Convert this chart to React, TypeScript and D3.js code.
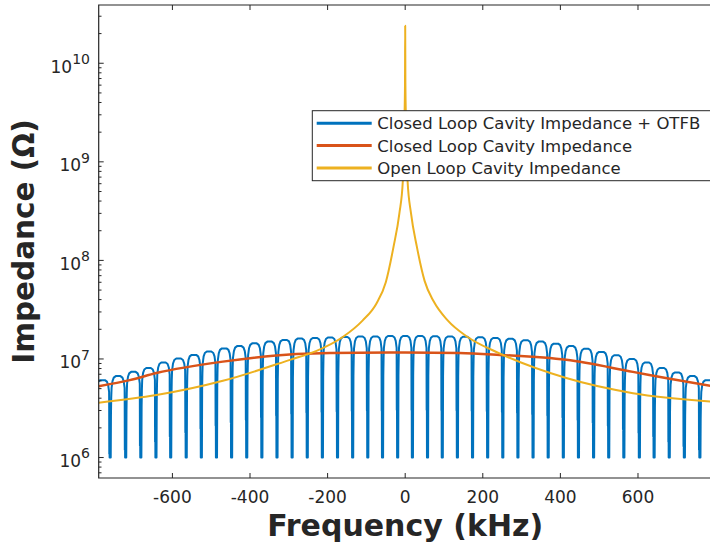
import React from "react";
import * as d3 from "d3";

// x tick values (kHz) and y decades
const xTicks = [-600, -400, -200, 0, 200, 400, 600];
const yDecades = [6, 7, 8, 9, 10];

// Closed loop + OTFB: notch centres (kHz)
const notchFreqs = [
  -760, -720, -681, -642, -604, -564, -525, -486, -447, -408, -369, -330, -291, -252,
  -213, -174, -135, -96, -58, -19, 19, 58, 96, 135, 174, 213, 252, 291, 330, 369, 408,
  447, 486, 525, 564, 604, 642, 681, 720, 760,
];
// peak of each arch between notches (Ohm), left to right
const archPeaks = [
  6.1e6, 6.7e6, 7.4e6, 8.1e6, 9.2e6, 1.01e7, 1.1e7, 1.19e7, 1.28e7, 1.35e7, 1.44e7,
  1.5e7, 1.56e7, 1.61e7, 1.63e7, 1.65e7, 1.67e7, 1.69e7, 1.69e7, 1.71e7, 1.71e7,
  1.71e7, 1.7e7, 1.69e7, 1.68e7, 1.66e7, 1.63e7, 1.6e7, 1.55e7, 1.5e7, 1.43e7,
  1.35e7, 1.27e7, 1.18e7, 1.09e7, 1.0e7, 9.2e6, 8.1e6, 7.3e6, 6.7e6, 6.1e6,
];
// shape of one arch: position within the gap, decades below the peak
const archPhase = [0.08, 0.14, 0.22, 0.35, 0.5, 0.65, 0.78, 0.86, 0.92];
const archDrop = [-0.12, -0.05, -0.015, 0, 0, 0, -0.015, -0.05, -0.12];
// shape of one notch: offset (kHz), decades below the peak (null = floor)
const notchOffset = [-3.0, -2.7, -2.3, -1.9, 1.0, 1.6, 2.3];
const notchDrop: (number | null)[] = [-0.25, -0.75, -0.3, null, null, -0.4, -0.22];
const notchFloor = 1e6;

// Closed loop cavity impedance
const closedF = [-790, -710, -641, -470, -281, -195, -40, 0, 140, 244, 415, 587, 682, 790];
const closedZ = [5.3e6, 6.1e6, 7.2e6, 9.4e6, 1.12e7, 1.15e7, 1.16e7, 1.16e7, 1.15e7, 1.1e7, 9.8e6, 7.4e6, 6.3e6, 5.3e6];

// Open loop cavity impedance
const openF = [-790, -641, -470, -297, -230, -160, -110, -74, -50, -30, -15, -6, -2, -0.5, 0, 0.5, 2, 6, 15, 30, 50, 74, 110, 160, 243, 415, 587, 790];
const openZ = [3.6e6, 4.3e6, 6.0e6, 9.8e6, 1.2e7, 1.68e7, 2.45e7, 3.66e7, 6.0e7, 1.38e8, 3.0e8, 6.5e8, 2.6e9, 6.3e9, 2.4e10, 6.3e9, 2.6e9, 6.5e8, 3.0e8, 1.38e8, 6.2e7, 3.8e7, 2.45e7, 1.68e7, 1.14e7, 6.4e6, 4.5e6, 3.7e6];

const seriesNames = [
  "Closed Loop Cavity Impedance + OTFB",
  "Closed Loop Cavity Impedance",
  "Open Loop Cavity Impedance",
];
const colors = ["#0072BD", "#D95319", "#EDB120"];

const W = 710;
const H = 550;
const left = 98.7;
const right = 711.7;
const top = 5;
const bottom = 478;
const axisColor = "#262626";
const font = "DejaVu Sans";

type Pt = { f: number; z: number };

function buildOtfb(): Pt[] {
  const period = notchFreqs[1] - notchFreqs[0];
  const bounds = [notchFreqs[0] - period, ...notchFreqs, notchFreqs[notchFreqs.length - 1] + period];
  const pts: Pt[] = [];
  for (let i = 0; i < archPeaks.length; i++) {
    const a = bounds[i];
    const b = bounds[i + 1];
    const peak = archPeaks[i];
    archPhase.forEach((p, j) => {
      pts.push({ f: a + p * (b - a), z: peak * Math.pow(10, archDrop[j]) });
    });
    if (i < archPeaks.length - 1) {
      const next = archPeaks[i + 1];
      notchOffset.forEach((o, j) => {
        const d = notchDrop[j];
        const ref = o < 0 ? peak : next;
        pts.push({ f: b + o, z: d === null ? notchFloor : ref * Math.pow(10, d) });
      });
    }
  }
  return pts;
}

export default function App() {
  const x = d3.scaleLinear().domain([-790, 790]).range([left, right]);
  const y = d3.scaleLog().domain([6.2e5, 3.9e10]).range([bottom, top]);

  const line = d3
    .line<Pt>()
    .x((d) => x(d.f))
    .y((d) => y(d.z));
  const smooth = d3
    .line<Pt>()
    .x((d) => x(d.f))
    .y((d) => y(d.z))
    .curve(d3.curveMonotoneX);

  const otfb = buildOtfb();
  const closed = closedF.map((f, i) => ({ f, z: closedZ[i] }));
  const open = openF.map((f, i) => ({ f, z: openZ[i] }));
  const paths = [line(otfb), smooth(closed), smooth(open)];

  const minor: number[] = [];
  for (let e = 5; e <= 10; e++) {
    for (let m = 2; m <= 9; m++) {
      const v = m * Math.pow(10, e);
      if (v > y.domain()[0] && v < y.domain()[1]) minor.push(v);
    }
  }

  const legendX = 312.3;
  const legendY = 110.7;
  const rowY = [123.3, 145.5, 168];

  return (
    <svg
      width={W}
      height={H}
      style={{ position: "absolute", left: 0, top: 0, background: "#fff" }}
      fontFamily={font}
    >
      <defs>
        <clipPath id="plot">
          <rect x={left} y={top} width={right - left} height={bottom - top} />
        </clipPath>
      </defs>
      <rect x={0} y={0} width={W} height={H} fill="#fff" />

      <g clipPath="url(#plot)">
        {paths.map((p, i) => (
          <path
            key={i}
            d={p ?? ""}
            fill="none"
            stroke={colors[i]}
            strokeWidth={i === 1 ? 2.5 : 2}
            strokeLinejoin="round"
          />
        ))}
      </g>

      {/* axes frame */}
      <path
        d={`M${right + 2},${top}H${left}V${bottom}H${right + 2}`}
        fill="none"
        stroke={axisColor}
        strokeWidth={1.2}
      />

      {xTicks.map((t) => (
        <g key={t}>
          <line x1={x(t)} x2={x(t)} y1={bottom} y2={bottom - 5} stroke={axisColor} strokeWidth={1} />
          <line x1={x(t)} x2={x(t)} y1={top} y2={top + 5} stroke={axisColor} strokeWidth={1} />
          <text x={x(t)} y={503} textAnchor="middle" fontSize={17} fill={axisColor}>
            {t}
          </text>
        </g>
      ))}

      {yDecades.map((e) => {
        const yy = y(Math.pow(10, e));
        return (
          <g key={e}>
            <line x1={left} x2={left + 5} y1={yy} y2={yy} stroke={axisColor} strokeWidth={1} />
            <text x={90} y={yy + 9.5} textAnchor="end" fill={axisColor}>
              <tspan fontSize={17}>10</tspan>
              <tspan fontSize={14} dy={-8.7}>
                {e}
              </tspan>
            </text>
          </g>
        );
      })}
      {minor.map((v) => (
        <line key={v} x1={left} x2={left + 2.8} y1={y(v)} y2={y(v)} stroke={axisColor} strokeWidth={1} />
      ))}

      <text x={(left + right) / 2} y={536} textAnchor="middle" fontSize={30} fontWeight="bold" fill={axisColor}>
        Frequency (kHz)
      </text>
      <text
        transform={`translate(34,${(top + bottom) / 2}) rotate(-90)`}
        textAnchor="middle"
        fontSize={29.5}
        fontWeight="bold"
        fill={axisColor}
      >
        Impedance (Ω)
      </text>

      {/* legend */}
      <rect x={legendX} y={legendY} width={400} height={70} fill="#fff" stroke={axisColor} strokeWidth={1} />
      {seriesNames.map((n, i) => (
        <g key={n}>
          <line x1={316.7} x2={371.7} y1={rowY[i]} y2={rowY[i]} stroke={colors[i]} strokeWidth={3} />
          <text x={377.3} y={rowY[i] + 6} fontSize={16.5} fill={axisColor}>
            {n}
          </text>
        </g>
      ))}
    </svg>
  );
}
